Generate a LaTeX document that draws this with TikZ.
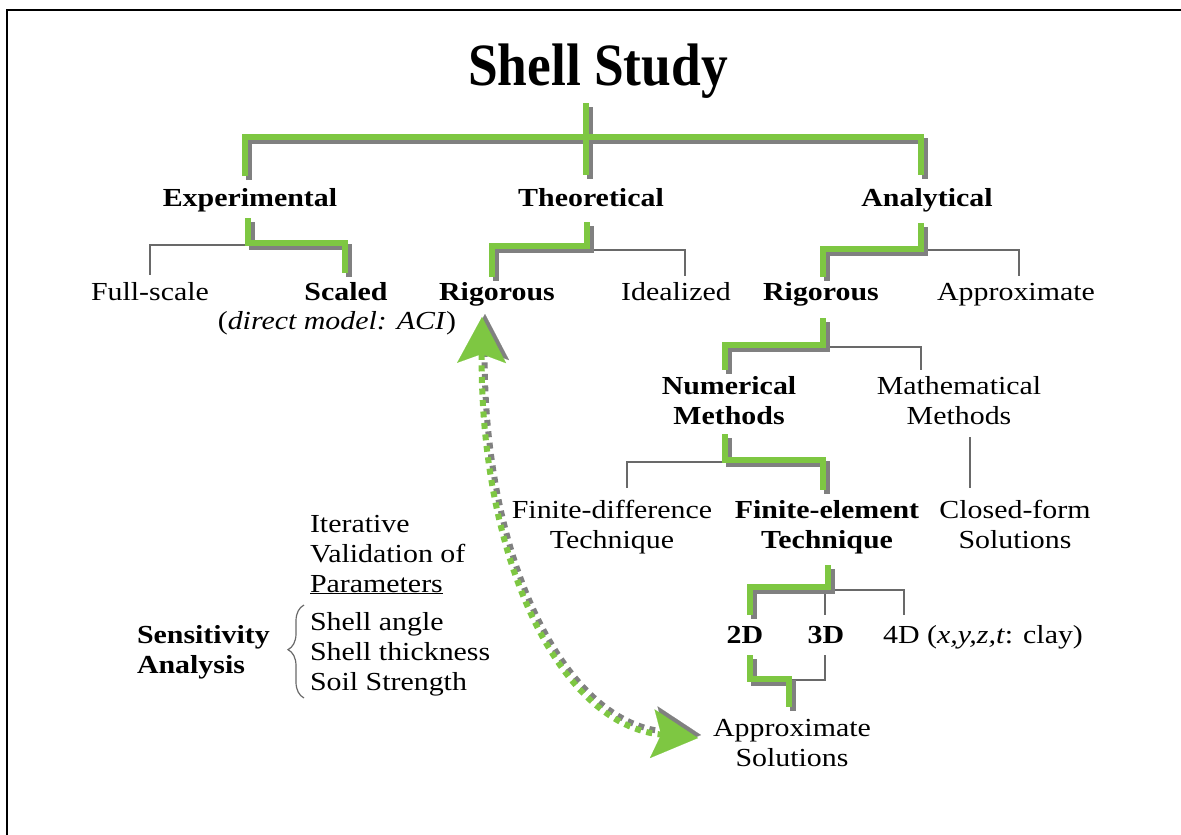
\documentclass[tikz,border=0pt]{standalone}
\usepackage{fontspec}
\setmainfont[FakeStretch=1.15]{Liberation Serif}
\newfontfamily\titlefont[FakeStretch=0.89]{Liberation Serif}
\usetikzlibrary{arrows.meta,decorations.pathreplacing}
\definecolor{grn}{RGB}{126,199,66}
\definecolor{shd}{RGB}{128,128,128}
\definecolor{thn}{RGB}{105,105,105}
\newcommand{\greenpaths}{%
  \draw[gl] (586,103) -- (586,175);
  \draw[gl] (245,176) |- (921,137) -- (921,175);
  \draw[gl] (248,218) |- (345,243) -- (345,273);
  \draw[gl] (587,222) |- (492,246) -- (492,277);
  \draw[gl] (921,223) |- (823,249) -- (823,277);
  \draw[gl] (823,318) |- (725,345) -- (725,370);
  \draw[gl] (725,434) |- (823,460) -- (823,490);
  \draw[gl] (828,565) |- (750,587) -- (750,615);
  \draw[gl] (750,655) |- (789,679) -- (789,707);
}
\begin{document}
\begin{tikzpicture}[x=1pt,y=-1pt,
  every node/.style={inner sep=0pt, outer sep=0pt, anchor=base, font=\fontsize{26}{30}\selectfont},
  bl/.style={font=\fontsize{26}{30}\selectfont\bfseries},
  ml/.style={align=center},
  tl/.style={draw=thn, line width=1.8pt},
  dotline/.style={line width=6pt, dash pattern=on 6pt off 5.5pt,
    {Stealth[length=46pt,width=49pt,inset=9pt,line width=0.1pt]}-{Stealth[length=46pt,width=49pt,inset=9pt,line width=0.1pt]}},
]
\useasboundingbox (0,0) rectangle (1181,835);
\draw[line width=2.5pt] (7,835) -- (7,10) -- (1181,10);

% title
\node (title) at (598,85) {\titlefont\bfseries\fontsize{60}{60}\selectfont Shell Study};

% level 1
\node[bl] (exp) at (250,206) {Experimental};
\node[bl] (theo) at (591,206) {Theoretical};
\node[bl] (ana) at (927,206) {Analytical};

% level 2
\node (full) at (150,300) {Full-scale};
\node[bl] (scaled) at (346,300) {Scaled};
\node (aci) at (337,329) {(\textit{direct model: ACI})};
\node[bl] (rig1) at (497,300) {Rigorous};
\node (ideal) at (676,300) {Idealized};
\node[bl] (rig2) at (821,300) {Rigorous};
\node (approx) at (1016,300) {Approximate};

% level 3 (base = last line)
\node[bl,ml] (num) at (729,424) {Numerical\\Methods};
\node[ml] (math) at (959,424) {Mathematical\\Methods};

% level 4
\node[ml] (fd) at (612,548) {Finite-difference\\Technique};
\node[bl,ml] (fe) at (827,548) {Finite-element\\Technique};
\node[ml] (cf) at (1015,548) {Closed-form\\Solutions};

% level 5
\node[bl] (d2) at (745,643) {2D};
\node[bl] (d3) at (826,643) {3D};
\node (d4) at (983,643) {4D (\textit{x,y,z,t}: clay)};

% level 6
\node[ml] (appsol) at (792,766) {Approximate\\Solutions};

% sensitivity block
\node[align=left, anchor=base west] (iter) at (310,592) {Iterative\\Validation of\\\underline{Parameters}};
\node[align=left, anchor=base west] (params) at (310,690) {Shell angle\\Shell thickness\\Soil Strength};
\node[bl, align=left, anchor=base west] (sens) at (137,673) {Sensitivity\\Analysis};
\draw[draw=thn, line width=1.2pt, decorate, decoration={brace, amplitude=16pt, aspect=0.52}]
  (304,698) coordinate (bb) -- (304,605) coordinate (bt);

% thin connectors
\draw[tl] (248,245) -| (full |- 0,275);
\draw[tl] (590,250) -| (685,276);
\draw[tl] (924,250) -| (1019,276);
\draw[tl] (826,347) -| (921,370);
\draw[tl] (725,462) -| (627,488);
\draw[tl] (970,437) -- (970,488);
\draw[tl] (829,590) -| (904,615);
\draw[tl] (825,590) -- (825,615);
\draw[tl] (825,655) |- (789,680);

% green connectors with shadow
\begin{scope}[transform canvas={shift={(4pt,-4pt)}}, gl/.style={draw=shd, line width=6pt, line join=miter}]
  \greenpaths
\end{scope}
\begin{scope}[gl/.style={draw=grn, line width=6pt, line join=miter}]
  \greenpaths
\end{scope}

% dotted double arrow
\coordinate (atop) at (482,317);
\coordinate (abot) at (698,738);
\begin{scope}[transform canvas={shift={(3pt,3pt)}}]
  \draw[dotline, draw=shd] (atop) .. controls (480,560) and (560,725) .. (abot);
\end{scope}
\draw[dotline, draw=grn] (atop) .. controls (480,560) and (560,725) .. (abot);
\end{tikzpicture}
\end{document}
